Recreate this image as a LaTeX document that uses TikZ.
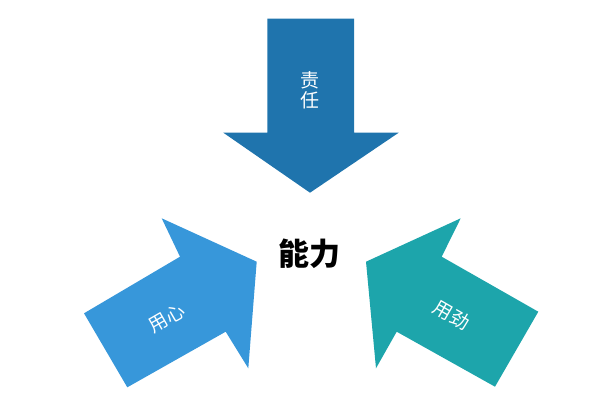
\documentclass[tikz,border=0pt]{standalone}
\usepackage{fontspec}
\newfontfamily\cjk{Noto Sans CJK SC}
\definecolor{topblue}{HTML}{1F74AD}
\definecolor{leftblue}{HTML}{3797DA}
\definecolor{rightteal}{HTML}{1DA5AB}
\begin{document}
\begin{tikzpicture}[x=1pt,y=-1pt,
  arrowshape/.style={draw=none},
  lbl/.style={text=white,font=\cjk\fontsize{19}{21}\selectfont,inner sep=0pt},
  center/.style={text=black,font=\cjk\bfseries\fontsize{31}{33}\selectfont,inner sep=0pt}]
\useasboundingbox (0,0) rectangle (600,400);
% top arrow
\fill[topblue] (267.3,18.7) -- (354,18.7) -- (354,132.7) -- (398.7,132.7) -- (310,192.7)
  -- (223.3,132.7) -- (267.3,132.7) -- cycle;
% left arrow
\fill[leftblue] (84,313.3) -- (180,256.7) -- (161.7,218.3) -- (256.7,261.7)
  -- (248.3,368.3) -- (225.7,331.7) -- (127.3,387.3) -- cycle;
% right arrow
\fill[rightteal] (538.3,311.7) -- (441.7,256.7) -- (460.7,218.3) -- (366,261.7)
  -- (376,368.3) -- (396.7,331.7) -- (495,386.7) -- cycle;
\node[lbl,align=center] (t) at (310,90) {责\\[-1pt]任};
\node[lbl,rotate=30] (l) at (166.7,318.3) {用心};
\node[lbl,rotate=-30] (r) at (451.7,315) {用劲};
\node[center] (c) at (309,254) {能力};
\end{tikzpicture}
\end{document}
